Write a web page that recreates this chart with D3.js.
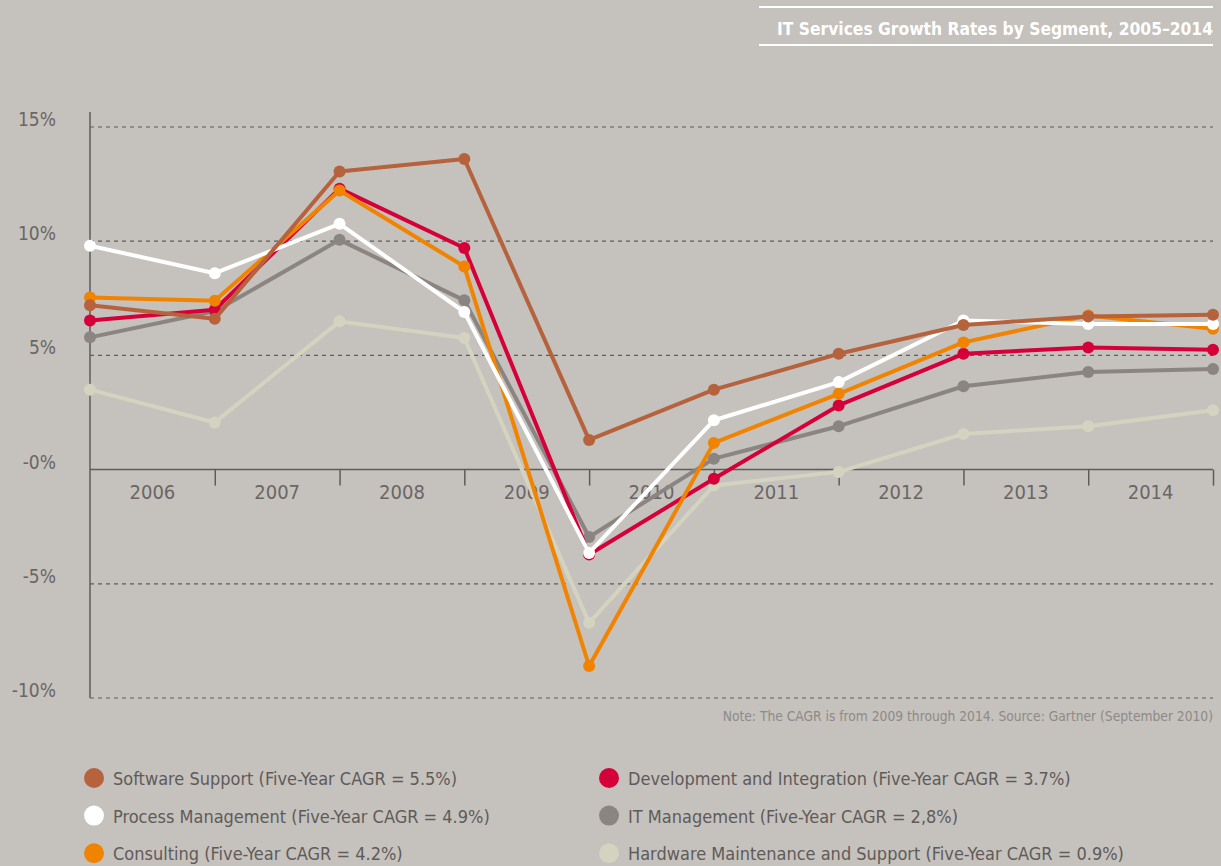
<!DOCTYPE html>
<meta charset="utf-8">
<script src="https://cdn.jsdelivr.net/npm/d3@7"></script>
<style>
body { margin: 0; background: #c5c1bd; }
text { font-family: "Liberation Sans Narrow", "DejaVu Sans Condensed", "Roboto", sans-serif; }
.grid line { stroke: #5f5b59; stroke-width: 1.2px; stroke-dasharray: 4,4; }
.series path { fill: none; stroke-width: 4px; stroke-linejoin: round; }
</style>
<body>
<script>

var years = [2005, 2006, 2007, 2008, 2009, 2010, 2011, 2012, 2013, 2014];
var yTicks = [15, 10, 5, 0, -5, -10];

// growth rates in %
var softwareSupport = [7.2, 6.6, 13.05, 13.6, 1.3, 3.5, 5.07, 6.33, 6.7, 6.78];
var processMgmt     = [9.8, 8.6, 10.76, 6.9, -3.65, 2.16, 3.83, 6.53, 6.37, 6.37];
var consulting      = [7.54, 7.39, 12.22, 8.89, -8.6, 1.17, 3.32, 5.57, 6.75, 6.17];
var devIntegration  = [6.53, 7.0, 12.3, 9.7, -3.72, -0.4, 2.81, 5.07, 5.35, 5.25];
var itMgmt          = [5.79, 6.93, 10.06, 7.41, -2.95, 0.48, 1.9, 3.65, 4.27, 4.4];
var hardware        = [3.5, 2.06, 6.49, 5.76, -6.71, -0.7, -0.1, 1.56, 1.9, 2.6];

var series = [
  {name: "Hardware Maintenance and Support (Five-Year CAGR = 0.9%)", color: "#d3d3c0", values: hardware},
  {name: "IT Management (Five-Year CAGR = 2,8%)", color: "#8a8582", values: itMgmt},
  {name: "Development and Integration (Five-Year CAGR = 3.7%)", color: "#d5003a", values: devIntegration},
  {name: "Consulting (Five-Year CAGR = 4.2%)", color: "#f08300", values: consulting},
  {name: "Process Management (Five-Year CAGR = 4.9%)", color: "#ffffff", values: processMgmt},
  {name: "Software Support (Five-Year CAGR = 5.5%)", color: "#b5623d", values: softwareSupport}
];

// legend order as in the picture: left column then right column
var legendOrder = [5, 4, 3, 2, 1, 0];

var width = 1221, height = 866;

var svg = d3.select("body").append("svg")
    .attr("width", width)
    .attr("height", height);

var x = d3.scaleLinear().domain([2005, 2014]).range([90, 1213]);
var y = d3.scaleLinear().domain([-10, 15]).range([698, 127]);

// title with rules
svg.append("line").attr("x1", 759).attr("x2", 1213).attr("y1", 7).attr("y2", 7)
    .attr("stroke", "#fff").attr("stroke-width", 2);
svg.append("line").attr("x1", 759).attr("x2", 1213).attr("y1", 45).attr("y2", 45)
    .attr("stroke", "#fff").attr("stroke-width", 2);
svg.append("text")
    .attr("x", 1213).attr("y", 35)
    .attr("text-anchor", "end")
    .style("fill", "#fff")
    .style("font-size", "17.3px")
    .style("font-weight", 700)
    .text("IT Services Growth Rates by Segment, 2005\u20132014");

// gridlines
svg.append("g").attr("class", "grid")
  .selectAll("line")
  .data(yTicks.filter(function(d) { return d != 0; }))
  .enter().append("line")
    .attr("x1", x(2005)).attr("x2", x(2014))
    .attr("y1", function(d) { return y(d); })
    .attr("y2", function(d) { return y(d); });

// y labels
svg.append("g")
  .selectAll("text")
  .data(yTicks)
  .enter().append("text")
    .attr("x", 56)
    .attr("y", function(d) { return y(d) - 1; })
    .attr("text-anchor", "end")
    .style("fill", "#6b6664")
    .style("font-size", "19px")
    .text(function(d) { return (d == 0 ? "-0" : d) + "%"; });

// y axis line
svg.append("line")
    .attr("x1", 90).attr("x2", 90).attr("y1", 112).attr("y2", 698)
    .attr("stroke", "#5f5b59").attr("stroke-width", 1.5);

// x axis at zero
var xAxis = d3.axisBottom(x)
    .tickValues(years.slice(1))
    .tickSize(16)
    .tickFormat("");
var gx = svg.append("g")
    .attr("transform", "translate(0," + y(0) + ")")
    .call(xAxis);
gx.select(".domain").remove();
gx.selectAll(".tick line").attr("stroke", "#5f5b59").attr("stroke-width", 1.5);
gx.append("line").attr("x1", x(2005)).attr("x2", x(2014))
    .attr("stroke", "#5f5b59").attr("stroke-width", 1.5);

svg.append("g")
  .selectAll("text")
  .data(years.slice(1))
  .enter().append("text")
    .attr("x", function(d) { return x(d - 0.5); })
    .attr("y", y(0) + 29)
    .attr("text-anchor", "middle")
    .style("fill", "#6b6664")
    .style("font-size", "20px")
    .text(function(d) { return d; });

// lines and dots
var line = d3.line()
    .x(function(d, i) { return x(years[i]); })
    .y(function(d) { return y(d); });

var g = svg.selectAll(".series")
    .data(series)
    .enter().append("g")
    .attr("class", "series");

g.append("path")
    .attr("d", function(d) { return line(d.values); })
    .style("stroke", function(d) { return d.color; });

g.selectAll("circle")
    .data(function(d) { return d.values.map(function(v, i) { return {v: v, i: i, color: d.color}; }); })
    .enter().append("circle")
    .attr("cx", function(d) { return x(years[d.i]); })
    .attr("cy", function(d) { return y(d.v); })
    .attr("r", 6)
    .style("fill", function(d) { return d.color; });

// note
svg.append("text")
    .attr("x", 1213).attr("y", 721)
    .attr("text-anchor", "end")
    .style("fill", "#8e8a87")
    .style("font-size", "13.7px")
    .text("Note: The CAGR is from 2009 through 2014. Source: Gartner (September 2010)");

// legend
var legend = svg.selectAll(".legend")
    .data(legendOrder)
    .enter().append("g")
    .attr("class", "legend")
    .attr("transform", function(d, i) {
      var col = Math.floor(i / 3), row = i % 3;
      return "translate(" + (col == 0 ? 94 : 609) + "," + (778 + row * 37.6) + ")";
    });

legend.append("circle")
    .attr("r", 10)
    .style("fill", function(d) { return series[d].color; });

legend.append("text")
    .attr("x", 19)
    .attr("y", 7)
    .style("fill", "#5f5b59")
    .style("font-size", "18px")
    .text(function(d) { return series[d].name; });

</script>
</body>
